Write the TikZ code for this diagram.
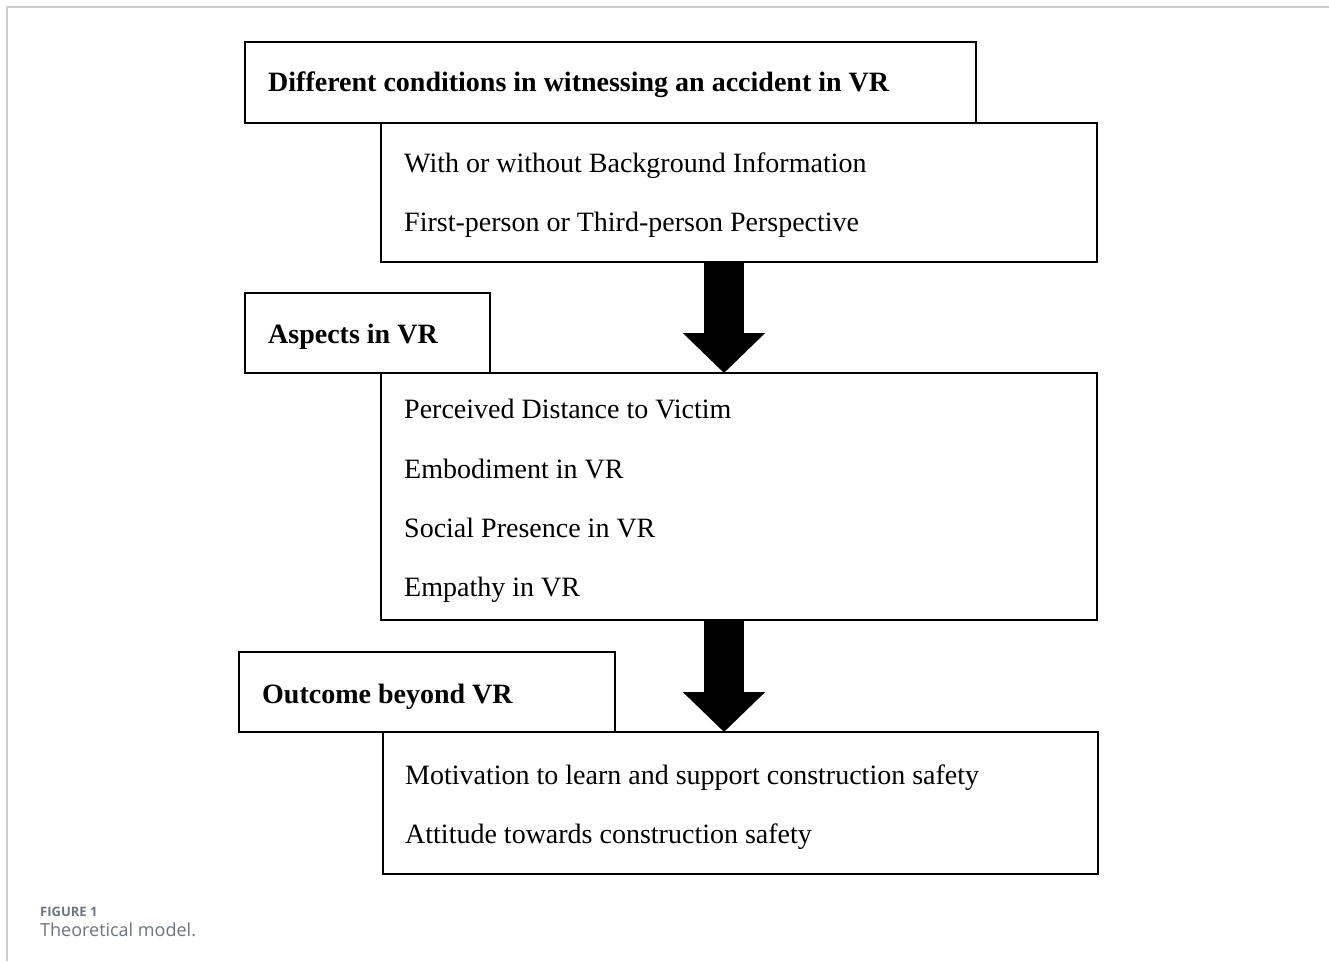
\documentclass[tikz,border=0pt]{standalone}
\usepackage{fontspec}
\setmainfont{Liberation Serif}
\newfontfamily\capfont{Open Sans}
\usetikzlibrary{arrows.meta}
\definecolor{framegray}{HTML}{CCCCCC}
\definecolor{capgray}{HTML}{6E7480}
\begin{document}
\begin{tikzpicture}[x=1pt,y=-1pt,
  box/.style={draw=black, line width=2.6pt, rectangle, inner sep=0pt, outer sep=0pt, anchor=north west},
  txt/.style={anchor=base west, inner sep=0pt, font=\fontsize{28}{32}\selectfont},
  htxt/.style={txt, font=\fontsize{28}{32}\selectfont\bfseries},
  bigarrow/.style={line width=40pt, -{Triangle[width=80pt,length=40pt]}},
]
\useasboundingbox (0,0) rectangle (1329,961);
\fill[white] (0,0) rectangle (1329,961);
\draw[framegray, line width=1.5pt] (7,961) -- (7,7) -- (1329,7);

% box 1
\node[box, minimum width=716pt, minimum height=139pt] (b1) at (381,123) {};
\node[box, fill=white, minimum width=731pt, minimum height=81pt] (h1) at (245,42) {};
\node[htxt] (h1t) at (268,91) {Different conditions in witnessing an accident in VR};
\node[txt] (b1a) at (404,172) {With or without Background Information};
\node[txt] (b1b) at (404,231) {First-person or Third-person Perspective};

% box 2
\node[box, minimum width=716pt, minimum height=247pt] (b2) at (381,373) {};
\node[box, fill=white, minimum width=245pt, minimum height=80pt] (h2) at (245,293) {};
\node[htxt] (h2t) at (268,343) {Aspects in VR};
\node[txt] (b2a) at (404,418) {Perceived Distance to Victim};
\node[txt] (b2b) at (404,478) {Embodiment in VR};
\node[txt] (b2c) at (404,537) {Social Presence in VR};
\node[txt] (b2d) at (404,596) {Empathy in VR};

% box 3
\node[box, minimum width=715pt, minimum height=142pt] (b3) at (383,732) {};
\node[box, fill=white, minimum width=376pt, minimum height=80pt] (h3) at (239,652) {};
\node[htxt] (h3t) at (262,703) {Outcome beyond VR};
\node[txt] (b3a) at (405,784) {Motivation to learn and support construction safety};
\node[txt] (b3b) at (405,843) {Attitude towards construction safety};

% arrows
\coordinate (ax) at (724,0);
\draw[bigarrow] (b1.south -| ax) -- (b2.north -| ax);
\draw[bigarrow] (b2.south -| ax) -- (b3.north -| ax);

% caption
\node[anchor=base west, inner sep=0pt, text=capgray, font=\capfont\fontsize{13}{15}\selectfont\bfseries] (cap1) at (40,916) {FIGURE 1};
\node[anchor=base west, inner sep=0pt, text=capgray, font=\capfont\fontsize{18}{21}\selectfont] (cap2) at (40,936) {Theoretical model.};
\end{tikzpicture}
\end{document}
